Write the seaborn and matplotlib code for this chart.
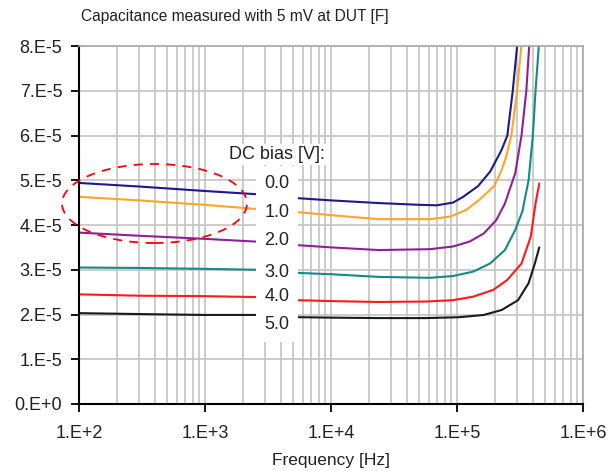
import matplotlib
matplotlib.use("Agg")
import matplotlib.pyplot as plt
import numpy as np
import pandas as pd
import seaborn as sns
from matplotlib.patches import Ellipse

# DC bias curves, capacitance in units of 1e-5 F
bias_labels = ["0.0", "1.0", "2.0", "3.0", "4.0", "5.0"]
colors = ["#1a1a8c", "#ffa526", "#8e1f98", "#138a87", "#ff1a1a", "#1a1a1a"]

f_00 = [1e2, 3e2, 1e3, 2.5e3, 5.4e3, 1e4, 2.4e4, 5.1e4, 6.9e4, 9.3e4, 1.12e5, 1.47e5, 1.84e5, 2.26e5, 2.51e5, 2.77e5, 3.0e5, 3.1e5]
c_00 = [4.94, 4.86, 4.76, 4.69, 4.60, 4.55, 4.49, 4.45, 4.44, 4.50, 4.63, 4.87, 5.20, 5.68, 6.0, 7.0, 8.0, 8.5]

f_10 = [1e2, 3e2, 1e3, 2.5e3, 5.4e3, 1e4, 2.4e4, 6.1e4, 8.9e4, 1.19e5, 1.5e5, 1.97e5, 2.24e5, 2.46e5, 2.7e5, 3.0e5, 3.24e5, 3.35e5]
c_10 = [4.63, 4.55, 4.45, 4.36, 4.29, 4.22, 4.13, 4.13, 4.19, 4.34, 4.56, 4.87, 5.20, 5.53, 6.0, 7.0, 8.0, 8.5]

f_20 = [1e2, 3e2, 1e3, 2.5e3, 5.4e3, 1e4, 2.4e4, 6.1e4, 9.3e4, 1.26e5, 1.63e5, 2.05e5, 2.4e5, 2.9e5, 3.25e5, 3.55e5, 3.74e5, 3.85e5]
c_20 = [3.83, 3.76, 3.69, 3.63, 3.55, 3.50, 3.44, 3.46, 3.52, 3.63, 3.81, 4.11, 4.48, 5.16, 6.0, 7.0, 8.0, 8.5]

f_30 = [1e2, 3e2, 1e3, 2.5e3, 5.4e3, 1e4, 2.4e4, 6.1e4, 9.3e4, 1.35e5, 1.83e5, 2.4e5, 2.9e5, 3.3e5, 3.7e5, 4.0e5, 4.2e5, 4.46e5, 4.55e5]
c_30 = [3.05, 3.04, 3.02, 3.00, 2.93, 2.90, 2.84, 2.82, 2.86, 2.96, 3.14, 3.44, 3.89, 4.30, 5.0, 6.0, 7.0, 8.0, 8.5]

f_40 = [1e2, 3e2, 1e3, 2.5e3, 5.4e3, 1e4, 2.4e4, 5.7e4, 9.3e4, 1.35e5, 1.94e5, 2.5e5, 3.25e5, 3.85e5, 4.2e5, 4.5e5]
c_40 = [2.45, 2.42, 2.41, 2.39, 2.32, 2.30, 2.28, 2.29, 2.32, 2.40, 2.55, 2.77, 3.14, 3.74, 4.48, 4.93]

f_50 = [1e2, 3e2, 1e3, 2.5e3, 5.4e3, 1e4, 2.4e4, 5.7e4, 1.05e5, 1.63e5, 2.26e5, 3.05e5, 3.7e5, 4.15e5, 4.5e5]
c_50 = [2.03, 2.01, 1.99, 1.99, 1.94, 1.93, 1.92, 1.92, 1.94, 1.99, 2.10, 2.32, 2.70, 3.14, 3.50]

x_ticks = [1e2, 1e3, 1e4, 1e5, 1e6]
x_tick_labels = ["1.E+2", "1.E+3", "1.E+4", "1.E+5", "1.E+6"]
y_ticks = [i * 1e-5 for i in range(9)]
y_tick_labels = ["0.E+0"] + [f"{i}.E-5" for i in range(1, 9)]

freqs = [f_00, f_10, f_20, f_30, f_40, f_50]
caps = [c_00, c_10, c_20, c_30, c_40, c_50]
frames = []
for lab, f, c in zip(bias_labels, freqs, caps):
    frames.append(pd.DataFrame({"freq": f, "cap": np.array(c) * 1e-5, "bias": lab}))
df = pd.concat(frames, ignore_index=True)

sns.set_theme(style="white")
plt.rcParams["font.family"] = ["Liberation Sans", "DejaVu Sans"]

fig = plt.figure(figsize=(6.10, 4.71), dpi=100)
ax = fig.add_axes([79 / 610, 1 - 404 / 471, 504 / 610, 358 / 471])

sns.lineplot(data=df, x="freq", y="cap", hue="bias", palette=colors,
             estimator=None, sort=True, legend=False, linewidth=1.5, ax=ax)

ax.set_xscale("log")
ax.set_xlim(1e2, 1e6)
ax.set_ylim(0, 8e-5)
ax.set_xticks(x_ticks)
ax.set_xticklabels(x_tick_labels)
ax.set_yticks(y_ticks)
ax.set_yticklabels(y_tick_labels)
ax.set_xlabel("")
ax.set_ylabel("")

ax.grid(which="major", axis="both", color="#c4c4c4", linewidth=1.2)
ax.grid(which="minor", axis="x", color="#c4c4c4", linewidth=1.2)
ax.set_axisbelow(True)
ax.tick_params(which="major", direction="out", length=6, width=1.3, color="black",
               labelsize=13, labelcolor="#222222")
ax.tick_params(axis="x", which="major", pad=9)
ax.tick_params(axis="y", which="major", pad=6, left=True)
ax.tick_params(axis="x", bottom=True)
ax.tick_params(which="minor", length=0)

for side in ["left", "bottom"]:
    ax.spines[side].set_color("black")
    ax.spines[side].set_linewidth(1.5)
for side in ["top", "right"]:
    ax.spines[side].set_color("#a8a8a8")
    ax.spines[side].set_linewidth(1.2)

# legend labels written next to the curves
ax.text(0.393, 0.696, "DC bias [V]:", transform=ax.transAxes, ha="center", va="center",
        fontsize=13, color="#222222",
        bbox=dict(boxstyle="square,pad=0.12", facecolor="white", edgecolor="none"))
label_y = [0.617, 0.536, 0.458, 0.366, 0.299, 0.221]
for lab, yy in zip(bias_labels, label_y):
    ax.text(0.393, yy, lab, transform=ax.transAxes, ha="center", va="center",
            fontsize=13, color="#222222", zorder=5,
            bbox=dict(boxstyle="square,pad=0.45", facecolor="white", edgecolor="none"))

# red dashed ring around the low frequency part
ring = Ellipse((0.1498, 0.560), 0.367, 0.2207, transform=ax.transAxes, fill=False,
               edgecolor="red", linewidth=1.3, linestyle=(0, (5, 4)), clip_on=False, zorder=6)
ax.add_patch(ring)

fig.text(81 / 610, 1 - 17 / 471, "Capacitance measured with 5 mV at DUT [F]",
         ha="left", va="center", fontsize=11.2, color="#222222")
fig.text(331 / 610, 1 - 461 / 471, "Frequency [Hz]", ha="center", va="center",
         fontsize=12.5, color="#222222")

fig.savefig("out.png", dpi=100)
